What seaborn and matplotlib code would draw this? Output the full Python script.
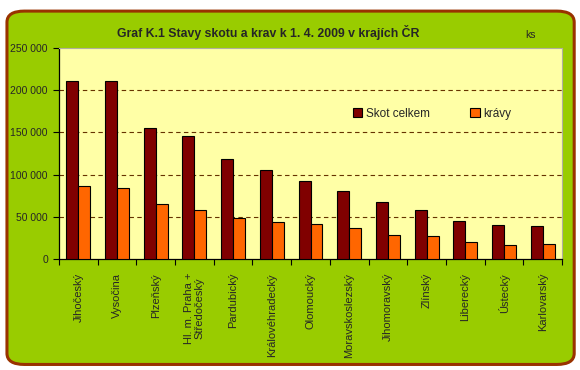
import matplotlib

matplotlib.use("Agg")
import matplotlib.pyplot as plt
import pandas as pd
import seaborn as sns
from matplotlib.patches import FancyBboxPatch
from matplotlib.ticker import FuncFormatter, MultipleLocator

regions = [
    "Jihočeský", "Vysočina", "Plzeňský", "Hl. m. Praha +\nStředočeský",
    "Pardubický", "Královéhradecký", "Olomoucký", "Moravskoslezský",
    "Jihomoravský", "Zlínský", "Liberecký", "Ústecký", "Karlovarský",
]
skot_celkem = [210500, 210400, 154900, 145400, 118500, 105100, 92100,
               80200, 67200, 57700, 44700, 39900, 38700]
kravy = [86100, 83800, 64800, 57700, 48200, 43500, 41100,
         36400, 28100, 26900, 19800, 16200, 17400]
series_names = ["Skot celkem", "krávy"]

df = pd.DataFrame({
    "kraj": regions * 2,
    "serie": [series_names[0]] * len(regions) + [series_names[1]] * len(regions),
    "ks": skot_celkem + kravy,
})

sns.set_theme(style="white")
plt.rcParams["font.family"] = ["Liberation Sans", "DejaVu Sans"]

GREEN = "#99CC00"
fig = plt.figure(figsize=(5.8, 3.7), dpi=100)
fig.patch.set_facecolor("white")
fig.patches.append(FancyBboxPatch(
    (0.012, 0.015), 0.978, 0.955, boxstyle="round,pad=0,rounding_size=0.03",
    transform=fig.transFigure, facecolor=GREEN, edgecolor="#993300",
    linewidth=2.2, zorder=-10))

ax = fig.add_axes([59 / 580, 1 - 259 / 370, (562 - 59) / 580, (259 - 48) / 370])
ax.set_facecolor("#FFFFA6")

sns.barplot(data=df, x="kraj", y="ks", hue="serie", palette=["#800000", "#FF6600"],
            saturation=1, width=0.62, edgecolor="black", linewidth=0.8, ax=ax, zorder=3)

ax.set_ylim(0, 250000)
ax.set_xlim(-0.5, len(regions) - 0.5)
ax.yaxis.set_major_locator(MultipleLocator(50000))
ax.yaxis.set_major_formatter(FuncFormatter(lambda v, p: f"{int(v):,}".replace(",", " ")))
for y in range(50000, 250000, 50000):
    ax.axhline(y, color="#663300", linestyle=(0, (4, 3)), linewidth=0.8, zorder=1)

ax.set_xlabel("")
ax.set_ylabel("")
ax.tick_params(axis="y", which="major", left=True, length=4, width=0.8, color="black",
               labelsize=7.5, pad=4)
ax.set_xticks(range(len(regions)))
ax.set_xticklabels(regions, rotation=90, fontsize=8, va="top", ha="center",
                   linespacing=1.0)
ax.set_xticks([i + 0.5 for i in range(-1, len(regions))], minor=True)
ax.tick_params(axis="x", which="major", bottom=False, pad=4)
ax.tick_params(axis="x", which="minor", bottom=True, length=4, width=0.8, color="black")

for side in ["left", "bottom"]:
    ax.spines[side].set_color("black")
    ax.spines[side].set_linewidth(0.9)
for side in ["top", "right"]:
    ax.spines[side].set_color("#b0b0a0")
    ax.spines[side].set_linewidth(0.8)

ax.legend(title=None, loc="upper left", bbox_to_anchor=(0.575, 0.74), ncol=2,
          frameon=False, fontsize=8.5, handlelength=0.8, handleheight=0.8,
          handletextpad=0.3, columnspacing=3.4, borderaxespad=0)

fig.text(268 / 580, 1 - 32 / 370, "Graf K.1 Stavy skotu a krav k 1. 4. 2009 v krajích ČR",
         ha="center", va="center", fontsize=8.8, fontweight="bold")
fig.text(530 / 580, 1 - 35 / 370, "ks", ha="center", va="center", fontsize=7.5)

fig.savefig("out.png", dpi=100, facecolor=fig.get_facecolor())
